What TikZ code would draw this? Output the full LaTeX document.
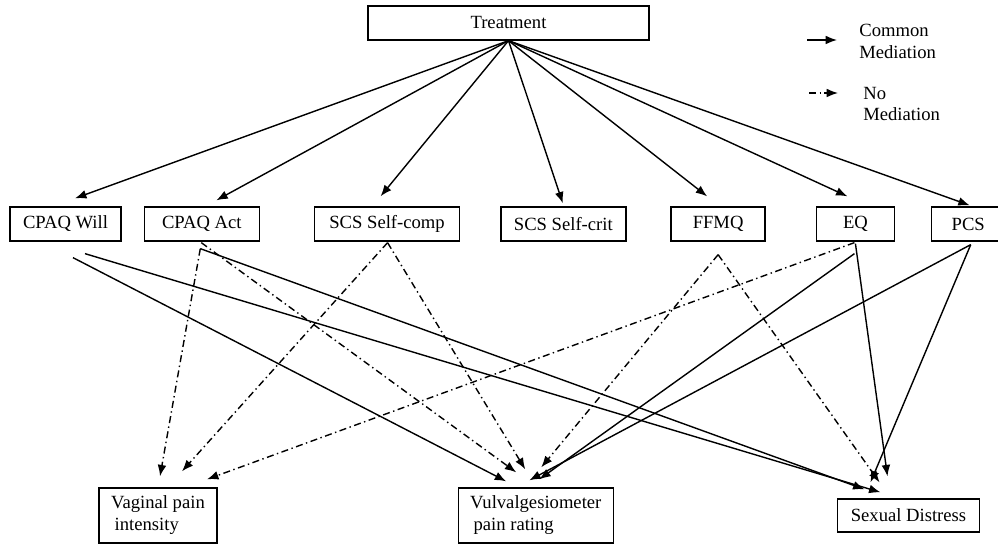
\documentclass[tikz,border=0pt]{standalone}
\usepackage{fontspec}
\setmainfont{Liberation Serif}
\usetikzlibrary{positioning,calc,arrows.meta}

\begin{document}
\begin{tikzpicture}[
  x=0.02cm, y=-0.02cm,
  font=\fontsize{10.6}{12.5}\selectfont,
  box/.style={draw, line width=0.75pt, align=left, inner sep=2pt, minimum height=0.68cm},
  med/.style={-{Latex[length=6.5pt,width=5pt]}, line width=0.8pt},
  nomed/.style={med, dash pattern=on 4pt off 2pt on 0.8pt off 2pt}
]
\useasboundingbox (0,0) rectangle (998,546);
\node[box, minimum width=5.62cm] (treat) at (508.5,23) {Treatment};
\node[box, minimum width=2.22cm] (will) at (65.5,224) {CPAQ Will};
\node[box, minimum width=2.30cm, right=0.44cm of will] (act) {CPAQ Act};
\node[box, minimum width=2.90cm, right=1.08cm of act] (comp) {SCS Self-comp};
\node[box, minimum width=2.50cm, right=0.80cm of comp] (crit) {SCS Self-crit};
\node[box, minimum width=1.88cm, right=0.88cm of crit] (ffmq) {FFMQ};
\node[box, minimum width=1.56cm, right=1.00cm of ffmq] (eq) {EQ};
\node[box, minimum width=1.46cm, right=0.72cm of eq] (pcs) {PCS};
\node[box, minimum width=2.36cm, minimum height=1.10cm] (vag) at (158,515.5) {Vaginal pain\\\hspace*{2pt}intensity};
\node[box, minimum width=3.10cm, minimum height=1.10cm, right=4.80cm of vag] (vulv) {Vulvalgesiometer\\\hspace*{2pt}pain rating};
\node[box, minimum width=2.84cm, minimum height=0.66cm, right=4.46cm of vulv] (sd) {Sexual Distress};

\node[align=left, anchor=west, inner sep=0pt] (key-med) at (859,41) {Common\\Mediation};
\node[align=left, anchor=west, inner sep=0pt] (key-nomed) at (863,104) {No\\Mediation};
\draw[med] ([xshift=-1.04cm,yshift=0.02cm]key-med.west) -- ([xshift=-0.44cm,yshift=0.02cm]key-med.west);
\draw[nomed] ([xshift=-1.08cm,yshift=0.22cm]key-nomed.west) -- ([xshift=-0.5cm,yshift=0.22cm]key-nomed.west);

\foreach \n/\dx/\dy in {will/9.5/-8, act/14.5/-6, comp/-6.5/-10, crit/-0.5/-3, ffmq/-11/-10, eq/-8/-10, pcs/1.5/-1}
  \draw[med] (treat.south) -- ($(\n.north)+(\dx,\dy)$);

\foreach \s/\sx/\sy/\t/\tx/\ty in {will/7.5/16/vulv/-29.5/-6, will/19.5/12/sd/-28/-6, act/-1.5/7/sd/-44/-9,
    eq/0/2/sd/-21/-22, eq/-1/12/vulv/3.5/-8, pcs/2.5/3/vulv/-6.5/-7, pcs/2.5/3/sd/-38/-16}
  \draw[med] ($(\s.south)+(\sx,\sy)$) -- ($(\t.north)+(\tx,\ty)$);

\foreach \s/\sx/\sy/\t/\tx/\ty in {act/-1.5/7/vag/2/-11, act/-0.5/1/vulv/-19.5/-15, comp/0.5/1/vag/24/-16,
    comp/0.5/1/vulv/-10.5/-18, ffmq/0/13/vulv/5.5/-20, ffmq/0/13/sd/-29/-16, eq/-1/1/vag/49/-8}
  \draw[nomed] ($(\s.south)+(\sx,\sy)$) -- ($(\t.north)+(\tx,\ty)$);
\end{tikzpicture}
\end{document}
